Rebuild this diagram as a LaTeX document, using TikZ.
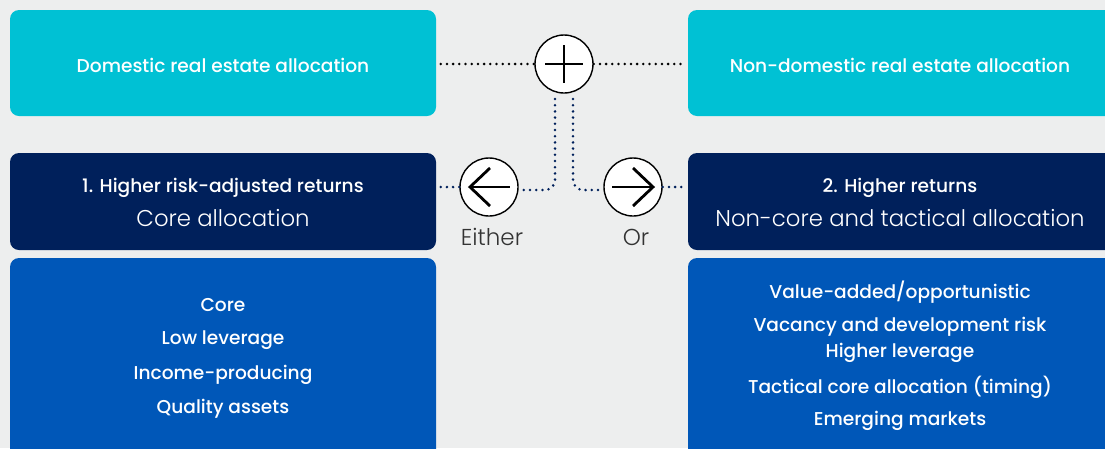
\documentclass[tikz,border=0pt]{standalone}
\usepackage{fontspec}
\setmainfont{Poppins}[BoldFont=Poppins Medium]
\newfontfamily\lightfont{Poppins Light}
\definecolor{bg}{HTML}{EDEEEE}
\definecolor{cyanbox}{HTML}{00C1D4}
\definecolor{navybox}{HTML}{00205B}
\definecolor{bluebox}{HTML}{0057B8}
\begin{document}
\begin{tikzpicture}[x=1pt,y=-1pt,
  box/.style={rounded corners=9pt},
  wtxt/.style={text=white,font=\bfseries\fontsize{18.6}{22}\selectfont,align=center},
  ltxt/.style={text=white,font=\lightfont\fontsize{22.8}{26}\selectfont},
  glab/.style={text=black!80,font=\lightfont\fontsize{23}{26}\selectfont},
  circ/.style={circle,draw=black,line width=1.4pt,fill=white,minimum size=58pt,inner sep=0pt},
  sym/.style={line width=2.8pt,black},
  dotsk/.style={line width=2.8pt,dash pattern=on 0pt off 6.2pt,line cap=round},
]
\useasboundingbox (0,0) rectangle (1105,448);
\clip (0,0) rectangle (1105,448);
\fill[bg] (0,0) rectangle (1105,448);
% boxes
\fill[cyanbox,box] (10,10) rectangle (436,116);
\fill[cyanbox,box] (688,10) rectangle (1120,116);
\fill[navybox,box] (10,153) rectangle (436,250);
\fill[navybox,box] (688,153) rectangle (1120,250);
\fill[bluebox,box] (10,258) rectangle (436,460);
\fill[bluebox,box] (688,258) rectangle (1120,460);
% anchors
\node[inner sep=0pt] (dom) at (440,64) {};
\node[inner sep=0pt] (nondom) at (684,64) {};
\node[inner sep=0pt] (navl) at (440,187) {};
\node[inner sep=0pt] (navr) at (684,187) {};
% circles
\node[circ] (plus) at (564,64) {};
\node[circ] (left) at (489,187) {};
\node[circ] (right) at (633,187) {};
\draw[sym] (545,64) -- (583,64);
\draw[sym] (564,45) -- (564,83);
\draw[sym] (469,187) -- (510,187);
\draw[sym,line join=miter] (490,168) -- (470,187) -- (490,206);
\draw[sym] (612,187) -- (653,187);
\draw[sym,line join=miter] (633,168) -- (653,187) -- (633,206);
% dotted connectors
\draw[dotsk,black] (dom) -- (plus.west);
\draw[dotsk,black] (plus.east) -- (nondom);
\draw[dotsk,navybox] (navl) -- (left.west);
\draw[dotsk,navybox] (right.east) -- (navr);
\coordinate (pl) at (555,99);
\coordinate (pr) at (573,99);
\draw[dotsk,navybox,rounded corners=10pt] (pl) -- (555,190) -- (left.east |- 0,190);
\draw[dotsk,navybox,rounded corners=10pt] (pr) -- (573,190) -- (right.west |- 0,190);
% labels
\node[glab] (either) at (492,237) {Either};
\node[glab] (or) at (636,237) {Or};
% texts
\node[wtxt] (t1) at (223,65) {Domestic real estate allocation};
\node[wtxt] (t2) at (900,65) {Non-domestic real estate allocation};
\node[wtxt] (t3) at (223,188) {1. Higher risk-adjusted returns};
\node[ltxt] (t4) at (223,218) {Core allocation};
\node[wtxt] (t5) at (900,188) {2. Higher returns};
\node[ltxt] (t6) at (900,218) {Non-core and tactical allocation};
\node[wtxt] at (223,305) {Core};
\node[wtxt] at (223,340) {Low leverage};
\node[wtxt] at (223,375) {Income-producing};
\node[wtxt] at (223,409) {Quality assets};
\node[wtxt] at (900,292) {Value-added/opportunistic};
\node[wtxt] at (900,327) {Vacancy and development risk};
\node[wtxt] at (900,353) {Higher leverage};
\node[wtxt] at (900,387) {Tactical core allocation (timing)};
\node[wtxt] at (900,421) {Emerging markets};
\end{tikzpicture}
\end{document}
